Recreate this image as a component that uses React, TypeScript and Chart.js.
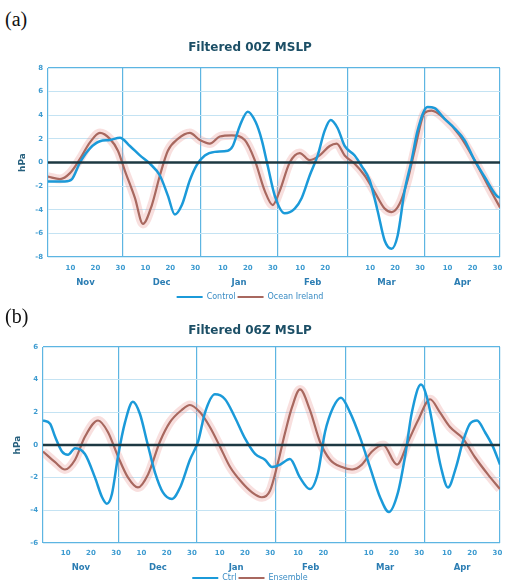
import React, { useEffect, useRef } from "react";
import { Chart, registerables } from "chart.js";
Chart.register(...registerables);

// Day index counted from 1 Nov (0) to 1 May (181)
const MONTH_STARTS = [0, 30, 61, 92, 120, 151, 181];
const MONTH_NAMES = ["Nov", "Dec", "Jan", "Feb", "Mar", "Apr"];
const TICK_DAYS = [9, 19, 29, 39, 49, 59, 70, 80, 90, 101, 111, 129, 139, 149, 160, 170, 180];
const TICK_LABELS = ["10", "20", "30", "10", "20", "30", "10", "20", "30", "10", "20", "10", "20", "30", "10", "20", "30"];

// Panel (a)
const A_TITLE = "Filtered 00Z MSLP";
const A_Y_TICKS = [-8, -6, -4, -2, 0, 2, 4, 6, 8];
const A_BLUE_LABEL = "Control";
const A_BROWN_LABEL = "Ocean Ireland";
const A_BLUE_DAYS = [0, 6.8, 9.6, 12.8, 16.8, 20.8, 24.8, 28.8, 32.8, 36.8, 40.8, 44.8, 48, 50.8, 53.6, 56.8, 59.6, 62.8, 66.8, 72, 74, 76.8, 80, 83.2, 85.6, 88, 90.8, 94.8, 98.8, 101.6, 104.8, 108, 110.8, 113.2, 116, 118.8, 122.8, 125.6, 128.8, 132, 134.8, 137.6, 140, 142.8, 145.6, 148, 152, 154.8, 158.8, 162.8, 166.8, 170.8, 174.8, 179.6, 181];
const A_BLUE_VALS = [-1.6, -1.6, -1.4, 0, 1.2, 1.8, 1.9, 2.1, 1.4, 0.6, -0.1, -1.1, -2.8, -4.4, -3.6, -1.5, -0.2, 0.6, 0.9, 1.0, 1.4, 3.1, 4.3, 3.4, 1.9, -0.3, -2.8, -4.3, -3.9, -3.0, -1.1, 0.6, 2.7, 3.6, 2.9, 1.4, 0.6, -0.3, -1.5, -4.1, -6.6, -7.3, -6.2, -2.4, 0.2, 2.7, 4.7, 4.6, 3.7, 2.9, 1.9, 0.2, -1.2, -2.8, -3.0];
const A_BROWN_DAYS = [0, 4.8, 8.8, 12.8, 16.8, 20.8, 24.8, 28, 30.8, 34.8, 38, 41.6, 44.8, 48, 52, 56.8, 60.8, 64.8, 68.8, 73.6, 78.8, 82.8, 86.8, 90, 92.8, 96.8, 100.8, 104.8, 108.8, 112.8, 115.6, 118.8, 122.8, 126.8, 130.8, 134.8, 137.6, 140.8, 144, 146.8, 150.8, 153.6, 158.8, 164.8, 170.8, 176.8, 181];
const A_BROWN_VALS = [-1.2, -1.4, -0.9, 0.3, 1.7, 2.5, 2.0, 1.0, -0.7, -3.0, -5.2, -3.6, -1.1, 1.0, 2.0, 2.5, 1.9, 1.6, 2.2, 2.3, 1.9, 0.2, -2.4, -3.6, -2.4, 0, 0.8, 0.2, 0.6, 1.4, 1.6, 0.6, -0.1, -1.1, -2.5, -3.9, -4.2, -3.5, -1.5, 1.0, 4.2, 4.4, 3.7, 2.3, 0.2, -2.2, -3.8];

// Panel (b)
const B_TITLE = "Filtered 06Z MSLP";
const B_Y_TICKS = [-6, -4, -2, 0, 2, 4, 6];
const B_BLUE_LABEL = "Ctrl";
const B_BROWN_LABEL = "Ensemble";
const B_BLUE_DAYS = [0, 2.8, 4.8, 7.5, 9.9, 12.7, 16.6, 20.6, 23.4, 25.3, 27.3, 29.7, 32.5, 35.6, 38.4, 41.2, 44.4, 47.5, 51.1, 54.3, 58.2, 61.4, 64.2, 68.1, 72.1, 76, 80, 84, 87.9, 90.7, 93.9, 97.8, 101.8, 105.7, 108.9, 111.7, 114.9, 118, 121.6, 125.5, 129.5, 133.5, 137, 140.6, 143.4, 146.1, 149.7, 152.5, 155.2, 157.6, 160.4, 163.6, 166.3, 169.1, 171.9, 175, 178.2, 181];
const B_BLUE_VALS = [1.5, 1.3, 0.5, -0.4, -0.6, -0.2, -0.55, -2.0, -3.2, -3.6, -3.0, -0.7, 1.4, 2.65, 1.9, 0.2, -1.7, -2.9, -3.3, -2.6, -0.9, 0.2, 2.0, 3.1, 2.8, 1.7, 0.4, -0.55, -0.9, -1.35, -1.2, -0.85, -2.0, -2.7, -1.7, 0.8, 2.3, 2.9, 2.0, 0.5, -1.35, -3.2, -4.1, -2.9, -0.7, 2.0, 3.7, 2.65, 0.5, -1.35, -2.6, -1.35, 0.2, 1.3, 1.5, 0.8, -0.1, -1.2];
const B_BROWN_DAYS = [0, 4.8, 8.7, 12.7, 16.6, 21.8, 25.7, 29.7, 33.7, 37.6, 41.6, 46.3, 50.3, 55, 58.2, 62.2, 66.1, 70.1, 74.1, 78.8, 82.8, 86.7, 89.9, 93.1, 95.8, 98.6, 101.8, 105.7, 109.7, 113.7, 118.4, 122.4, 126.3, 130.3, 134.7, 140.2, 144.6, 148.5, 153.3, 157.2, 161.2, 166.3, 171.1, 176.2, 181];
const B_BROWN_VALS = [-0.4, -1.05, -1.5, -0.9, 0.5, 1.5, 0.8, -0.7, -2.0, -2.6, -1.8, 0.2, 1.4, 2.15, 2.45, 2.0, 1.1, -0.1, -1.35, -2.3, -2.9, -3.2, -2.8, -1.05, 0.7, 2.3, 3.4, 2.15, 0.2, -0.9, -1.35, -1.5, -1.2, -0.4, 0, -1.2, 0.2, 1.5, 2.8, 2.0, 1.1, 0.4, -0.75, -1.8, -2.7];

const BLUE = "#1b9ad9";
const BROWN = "#a8685f";
const GLOW = "rgba(232,150,145,0.30)";
const FRAME = "#5db5e2";
const GRID = "#c4e3f3";
const TICK_COLOR = "#3d9bd0";
const FONT = "'DejaVu Sans', Verdana, sans-serif";

const zeroLine = {
  id: "zeroLine",
  afterDatasetsDraw(chart: any) {
    const { ctx, chartArea, scales } = chart;
    const y = scales.y.getPixelForValue(0);
    ctx.save();
    ctx.strokeStyle = "#1d3842";
    ctx.lineWidth = 2.5;
    ctx.beginPath();
    ctx.moveTo(chartArea.left, y);
    ctx.lineTo(chartArea.right, y);
    ctx.stroke();
    ctx.restore();
  },
};

type Panel = {
  title: string;
  yTicks: number[];
  blueLabel: string;
  brownLabel: string;
  blueDays: number[];
  blueVals: number[];
  brownDays: number[];
  brownVals: number[];
  yW: number;
  titlePad: { top: number; bottom: number };
  yTitlePad: number;
  xPad: number;
  monthH: number;
  monthPad: number;
  padBottom: number;
};

function buildConfig(p: Panel): any {
  const blue = p.blueDays.map((d, i) => ({ x: d, y: p.blueVals[i] }));
  const brown = p.brownDays.map((d, i) => ({ x: d, y: p.brownVals[i] }));
  const xTicks = [...MONTH_STARTS, ...TICK_DAYS].sort((a, b) => a - b);
  const monthCenters = MONTH_NAMES.map((_, i) => (MONTH_STARTS[i] + MONTH_STARTS[i + 1]) / 2);
  const yMin = p.yTicks[0];
  const yMax = p.yTicks[p.yTicks.length - 1];
  return {
    type: "line",
    data: {
      datasets: [
        { label: p.blueLabel, data: blue, borderColor: BLUE, backgroundColor: BLUE, borderWidth: 2.5, pointRadius: 0, cubicInterpolationMode: "monotone", order: 0 },
        { label: p.brownLabel, data: brown, borderColor: BROWN, backgroundColor: BROWN, borderWidth: 2.2, pointRadius: 0, cubicInterpolationMode: "monotone", order: 1 },
        { label: "_glow", data: brown, borderColor: GLOW, backgroundColor: GLOW, borderWidth: 9, pointRadius: 0, cubicInterpolationMode: "monotone", order: 2 },
      ],
    },
    options: {
      animation: false,
      responsive: false,
      devicePixelRatio: 1,
      layout: { padding: { left: 0, right: 17, top: 0, bottom: p.padBottom } },
      plugins: {
        title: {
          display: true,
          text: p.title,
          color: "#1c4f66",
          font: { family: FONT, size: 12, weight: "bold", lineHeight: 1.2 },
          padding: p.titlePad,
        },
        legend: {
          position: "bottom",
          labels: {
            boxWidth: 26,
            boxHeight: 2,
            padding: 2,
            color: "#3a8cc4",
            font: { family: FONT, size: 8 },
            filter: (it: any) => it.text !== "_glow",
            generateLabels: (chart: any) =>
              Chart.defaults.plugins.legend.labels
                .generateLabels(chart)
                .map((it: any) => ({ ...it, fillStyle: it.strokeStyle, lineWidth: 0 })),
          },
        },
        tooltip: { enabled: false },
      },
      scales: {
        x: {
          type: "linear",
          min: 0,
          max: 181,
          weight: 0,
          afterBuildTicks: (s: any) => {
            s.ticks = xTicks.map((v) => ({ value: v }));
          },
          afterFit: (s: any) => {
            s.height = 16;
          },
          ticks: {
            autoSkip: false,
            maxRotation: 0,
            padding: p.xPad,
            color: TICK_COLOR,
            font: { family: FONT, size: 7, weight: "bold" },
            callback: (v: number) => {
              const i = TICK_DAYS.indexOf(v);
              return i >= 0 ? TICK_LABELS[i] : "";
            },
          },
          grid: {
            drawTicks: false,
            color: (ctx: any) => (ctx.tick && MONTH_STARTS.includes(ctx.tick.value) ? FRAME : "rgba(0,0,0,0)"),
            lineWidth: 1.2,
          },
          border: { display: false },
        },
        m: {
          type: "linear",
          axis: "x",
          position: "bottom",
          min: 0,
          max: 181,
          weight: 1,
          afterBuildTicks: (s: any) => {
            s.ticks = monthCenters.map((v) => ({ value: v }));
          },
          afterFit: (s: any) => {
            s.height = p.monthH;
          },
          ticks: {
            autoSkip: false,
            maxRotation: 0,
            padding: p.monthPad,
            color: "#2b7db3",
            font: { family: FONT, size: 8.5, weight: "bold" },
            callback: (v: number) => {
              const i = monthCenters.indexOf(v);
              return i >= 0 ? MONTH_NAMES[i] : "";
            },
          },
          grid: { display: false, drawTicks: false },
          border: { display: false },
        },
        y: {
          min: yMin,
          max: yMax,
          afterBuildTicks: (s: any) => {
            s.ticks = p.yTicks.map((v) => ({ value: v }));
          },
          afterFit: (s: any) => {
            s.width = p.yW;
          },
          ticks: {
            padding: 5,
            color: TICK_COLOR,
            font: { family: FONT, size: 7, weight: "bold" },
          },
          grid: {
            drawTicks: false,
            color: (ctx: any) => (ctx.tick && (ctx.tick.value === yMin || ctx.tick.value === yMax) ? FRAME : GRID),
            lineWidth: (ctx: any) => (ctx.tick && (ctx.tick.value === yMin || ctx.tick.value === yMax) ? 1.2 : 1),
          },
          border: { display: false },
          title: {
            display: true,
            text: "hPa",
            color: "#27607e",
            font: { family: FONT, size: 9, weight: "bold" },
            padding: { top: p.yTitlePad, bottom: 0 },
          },
        },
      },
    },
    plugins: [zeroLine],
  };
}

function PanelChart({ panel, width, height }: { panel: Panel; width: number; height: number }) {
  const ref = useRef<HTMLCanvasElement | null>(null);
  useEffect(() => {
    if (!ref.current) return;
    const chart = new Chart(ref.current, buildConfig(panel));
    return () => chart.destroy();
  }, [panel]);
  return <canvas ref={ref} width={width} height={height} style={{ display: "block", width, height }} />;
}

const PANEL_A: Panel = {
  title: A_TITLE,
  yTicks: A_Y_TICKS,
  blueLabel: A_BLUE_LABEL,
  brownLabel: A_BROWN_LABEL,
  blueDays: A_BLUE_DAYS,
  blueVals: A_BLUE_VALS,
  brownDays: A_BROWN_DAYS,
  brownVals: A_BROWN_VALS,
  yW: 48,
  titlePad: { top: 5, bottom: 12.6 },
  yTitlePad: 17,
  xPad: 7,
  monthH: 18,
  monthPad: 5,
  padBottom: 0,
};

const PANEL_B: Panel = {
  title: B_TITLE,
  yTicks: B_Y_TICKS,
  blueLabel: B_BLUE_LABEL,
  brownLabel: B_BROWN_LABEL,
  blueDays: B_BLUE_DAYS,
  blueVals: B_BLUE_VALS,
  brownDays: B_BROWN_DAYS,
  brownVals: B_BROWN_VALS,
  yW: 43,
  titlePad: { top: 2, bottom: 8.6 },
  yTitlePad: 12,
  xPad: 6,
  monthH: 13,
  monthPad: 4,
  padBottom: 1,
};

export default function App() {
  const labelStyle: React.CSSProperties = {
    position: "absolute",
    left: 5,
    fontFamily: "'Liberation Serif', 'Times New Roman', serif",
    fontSize: 20,
    color: "#111",
    lineHeight: "22px",
  };
  return (
    <div style={{ position: "absolute", left: 0, top: 0, width: 517, height: 587, background: "#fff", overflow: "hidden" }}>
      <div style={{ position: "absolute", left: 0, top: 36 }}>
        <PanelChart panel={PANEL_A} width={517} height={275} />
      </div>
      <div style={{ position: "absolute", left: 0, top: 322 }}>
        <PanelChart panel={PANEL_B} width={517} height={271} />
      </div>
      <div style={{ ...labelStyle, top: 8 }}>(a)</div>
      <div style={{ ...labelStyle, top: 305 }}>(b)</div>
    </div>
  );
}
